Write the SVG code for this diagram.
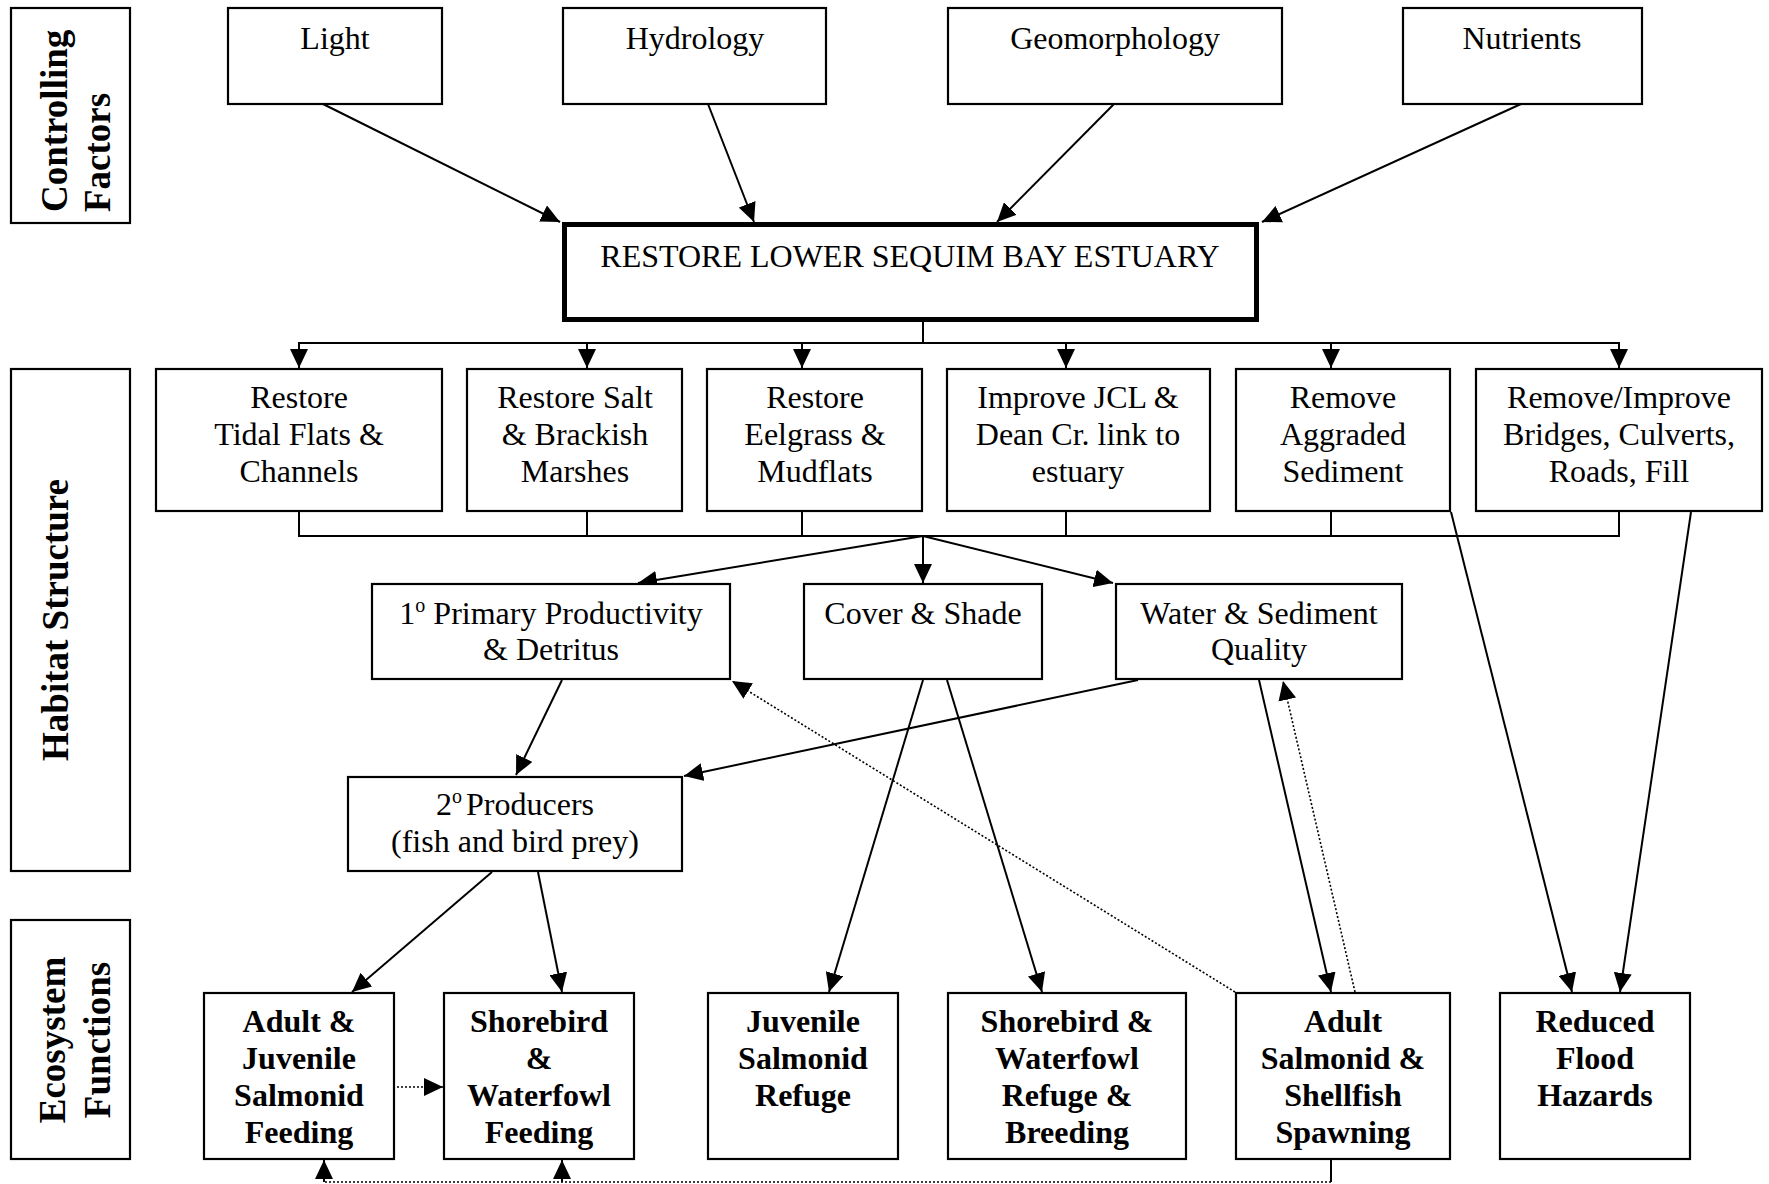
<svg xmlns="http://www.w3.org/2000/svg" width="1769" height="1184" viewBox="0 0 1769 1184">
<style>
.box{fill:#fff;stroke:#000;stroke-width:2.2}
.main{fill:#fff;stroke:#000;stroke-width:5}
.t{font-family:"Liberation Serif","Times New Roman",serif;font-size:32px;text-anchor:middle;fill:#000}
.b{font-weight:bold}
.lbl{font-family:"Liberation Serif","Times New Roman",serif;font-size:37px;font-weight:bold;fill:#000}
.c{stroke:#000;stroke-width:2;fill:none}
.d{stroke-dasharray:2,2;stroke-width:1.6}
.sup{font-size:20px}
</style>
<defs>
<marker id="ah" markerUnits="userSpaceOnUse" markerWidth="20" markerHeight="18" refX="19" refY="9" orient="auto" viewBox="0 0 20 18">
<path d="M0,0 L19,9 L0,18 z" fill="#000"/>
</marker>
</defs>
<rect width="1769" height="1184" fill="#fff"/>

<g id="connectors">
<line class="c" x1="323" y1="104" x2="560" y2="222" marker-end="url(#ah)"/>
<line class="c" x1="708" y1="104" x2="754" y2="222" marker-end="url(#ah)"/>
<line class="c" x1="1114" y1="104" x2="997" y2="222" marker-end="url(#ah)"/>
<line class="c" x1="1521" y1="104" x2="1262" y2="222" marker-end="url(#ah)"/>
<line class="c" x1="923" y1="322" x2="923" y2="343"/>
<line class="c" x1="298" y1="343" x2="1620" y2="343"/>
<line class="c" x1="299" y1="343" x2="299" y2="368" marker-end="url(#ah)"/>
<line class="c" x1="587" y1="343" x2="587" y2="368" marker-end="url(#ah)"/>
<line class="c" x1="802" y1="343" x2="802" y2="368" marker-end="url(#ah)"/>
<line class="c" x1="1066" y1="343" x2="1066" y2="368" marker-end="url(#ah)"/>
<line class="c" x1="1331" y1="343" x2="1331" y2="368" marker-end="url(#ah)"/>
<line class="c" x1="1619" y1="343" x2="1619" y2="368" marker-end="url(#ah)"/>
<polyline class="c" points="299,511 299,536 1619,536 1619,511"/>
<line class="c" x1="587" y1="511" x2="587" y2="536"/>
<line class="c" x1="802" y1="511" x2="802" y2="536"/>
<line class="c" x1="1066" y1="511" x2="1066" y2="536"/>
<line class="c" x1="1331" y1="511" x2="1331" y2="536"/>
<line class="c" x1="923" y1="536" x2="638" y2="583" marker-end="url(#ah)"/>
<line class="c" x1="923" y1="536" x2="923" y2="583" marker-end="url(#ah)"/>
<line class="c" x1="923" y1="536" x2="1113" y2="583" marker-end="url(#ah)"/>
<line class="c" x1="562" y1="680" x2="516" y2="775" marker-end="url(#ah)"/>
<line class="c" x1="1138" y1="680" x2="684" y2="776" marker-end="url(#ah)"/>
<line class="c" x1="492" y1="872" x2="352" y2="992" marker-end="url(#ah)"/>
<line class="c" x1="538" y1="872" x2="562" y2="992" marker-end="url(#ah)"/>
<line class="c" x1="923" y1="680" x2="829" y2="992" marker-end="url(#ah)"/>
<line class="c" x1="947" y1="680" x2="1042" y2="992" marker-end="url(#ah)"/>
<line class="c" x1="1259" y1="680" x2="1331" y2="992" marker-end="url(#ah)"/>
<line class="c d" x1="1355" y1="992" x2="1283" y2="681" marker-end="url(#ah)"/>
<line class="c d" x1="1235" y1="992" x2="732" y2="681" marker-end="url(#ah)"/>
<line class="c" x1="1451" y1="512" x2="1572" y2="992" marker-end="url(#ah)"/>
<line class="c" x1="1691" y1="512" x2="1620" y2="992" marker-end="url(#ah)"/>
<line class="c d" x1="397" y1="1087" x2="443" y2="1087" marker-end="url(#ah)"/>
<line class="c" x1="1331" y1="1160" x2="1331" y2="1182"/>
<line class="c d" x1="1331" y1="1182" x2="324" y2="1182"/>
<line class="c" x1="324" y1="1182" x2="324" y2="1160" marker-end="url(#ah)"/>
<line class="c" x1="562" y1="1182" x2="562" y2="1160" marker-end="url(#ah)"/>
</g>

<g id="label-controlling">
<rect class="box" x="11" y="8" width="119" height="215"/>
<text class="lbl" transform="translate(67,212) rotate(-90)">Controlling</text>
<text class="lbl" transform="translate(110,212) rotate(-90)">Factors</text>
</g>
<g id="label-habitat">
<rect class="box" x="11" y="369" width="119" height="502"/>
<text class="lbl" text-anchor="middle" transform="translate(68,620) rotate(-90)">Habitat Structure</text>
</g>
<g id="label-ecosystem">
<rect class="box" x="11" y="920" width="119" height="239"/>
<text class="lbl" text-anchor="middle" transform="translate(65,1040) rotate(-90)">Ecosystem</text>
<text class="lbl" text-anchor="middle" transform="translate(110,1040) rotate(-90)">Functions</text>
</g>

<g id="light"><rect class="box" x="228" y="8" width="214" height="96"/><text class="t" x="335" y="49">Light</text></g>
<g id="hydrology"><rect class="box" x="563" y="8" width="263" height="96"/><text class="t" x="695" y="49">Hydrology</text></g>
<g id="geomorphology"><rect class="box" x="948" y="8" width="334" height="96"/><text class="t" x="1115" y="49">Geomorphology</text></g>
<g id="nutrients"><rect class="box" x="1403" y="8" width="239" height="96"/><text class="t" x="1522" y="49">Nutrients</text></g>

<g id="restore-main"><rect class="main" x="564.5" y="224.5" width="692" height="95"/><text class="t" x="910" y="267">RESTORE LOWER SEQUIM BAY ESTUARY</text></g>

<g id="tidal-flats"><rect class="box" x="156" y="369" width="286" height="142"/>
<text class="t" x="299" y="408">Restore</text><text class="t" x="299" y="445">Tidal Flats &amp;</text><text class="t" x="299" y="482">Channels</text></g>
<g id="marshes"><rect class="box" x="467" y="369" width="215" height="142"/>
<text class="t" x="575" y="408">Restore Salt</text><text class="t" x="575" y="445">&amp; Brackish</text><text class="t" x="575" y="482">Marshes</text></g>
<g id="eelgrass"><rect class="box" x="707" y="369" width="215" height="142"/>
<text class="t" x="815" y="408">Restore</text><text class="t" x="815" y="445">Eelgrass &amp;</text><text class="t" x="815" y="482">Mudflats</text></g>
<g id="jcl"><rect class="box" x="947" y="369" width="263" height="142"/>
<text class="t" x="1078" y="408">Improve JCL &amp;</text><text class="t" x="1078" y="445">Dean Cr. link to</text><text class="t" x="1078" y="482">estuary</text></g>
<g id="aggraded"><rect class="box" x="1236" y="369" width="214" height="142"/>
<text class="t" x="1343" y="408">Remove</text><text class="t" x="1343" y="445">Aggraded</text><text class="t" x="1343" y="482">Sediment</text></g>
<g id="bridges"><rect class="box" x="1476" y="369" width="286" height="142"/>
<text class="t" x="1619" y="408">Remove/Improve</text><text class="t" x="1619" y="445">Bridges, Culverts,</text><text class="t" x="1619" y="482">Roads, Fill</text></g>

<g id="primary"><rect class="box" x="372" y="584" width="358" height="95"/>
<text class="t" x="551" y="624">1<tspan class="sup" dy="-12">o</tspan><tspan dy="12"> Primary Productivity</tspan></text>
<text class="t" x="551" y="660">&amp; Detritus</text></g>
<g id="cover"><rect class="box" x="804" y="584" width="238" height="95"/>
<text class="t" x="923" y="624">Cover &amp; Shade</text></g>
<g id="water"><rect class="box" x="1116" y="584" width="286" height="95"/>
<text class="t" x="1259" y="624">Water &amp; Sediment</text><text class="t" x="1259" y="660">Quality</text></g>

<g id="producers"><rect class="box" x="348" y="777" width="334" height="94"/>
<text class="t" x="515" y="815">2<tspan class="sup" dy="-12">o</tspan><tspan dy="12" dx="4">Producers</tspan></text>
<text class="t" x="515" y="852">(fish and bird prey)</text></g>

<g id="salmonid-feeding"><rect class="box" x="204" y="993" width="190" height="166"/>
<text class="t b" x="299" y="1032">Adult &amp;</text><text class="t b" x="299" y="1069">Juvenile</text><text class="t b" x="299" y="1106">Salmonid</text><text class="t b" x="299" y="1143">Feeding</text></g>
<g id="bird-feeding"><rect class="box" x="444" y="993" width="190" height="166"/>
<text class="t b" x="539" y="1032">Shorebird</text><text class="t b" x="539" y="1069">&amp;</text><text class="t b" x="539" y="1106">Waterfowl</text><text class="t b" x="539" y="1143">Feeding</text></g>
<g id="juvenile-refuge"><rect class="box" x="708" y="993" width="190" height="166"/>
<text class="t b" x="803" y="1032">Juvenile</text><text class="t b" x="803" y="1069">Salmonid</text><text class="t b" x="803" y="1106">Refuge</text></g>
<g id="bird-refuge"><rect class="box" x="948" y="993" width="238" height="166"/>
<text class="t b" x="1067" y="1032">Shorebird &amp;</text><text class="t b" x="1067" y="1069">Waterfowl</text><text class="t b" x="1067" y="1106">Refuge &amp;</text><text class="t b" x="1067" y="1143">Breeding</text></g>
<g id="spawning"><rect class="box" x="1236" y="993" width="214" height="166"/>
<text class="t b" x="1343" y="1032">Adult</text><text class="t b" x="1343" y="1069">Salmonid &amp;</text><text class="t b" x="1343" y="1106">Shellfish</text><text class="t b" x="1343" y="1143">Spawning</text></g>
<g id="flood"><rect class="box" x="1500" y="993" width="190" height="166"/>
<text class="t b" x="1595" y="1032">Reduced</text><text class="t b" x="1595" y="1069">Flood</text><text class="t b" x="1595" y="1106">Hazards</text></g>
</svg>
